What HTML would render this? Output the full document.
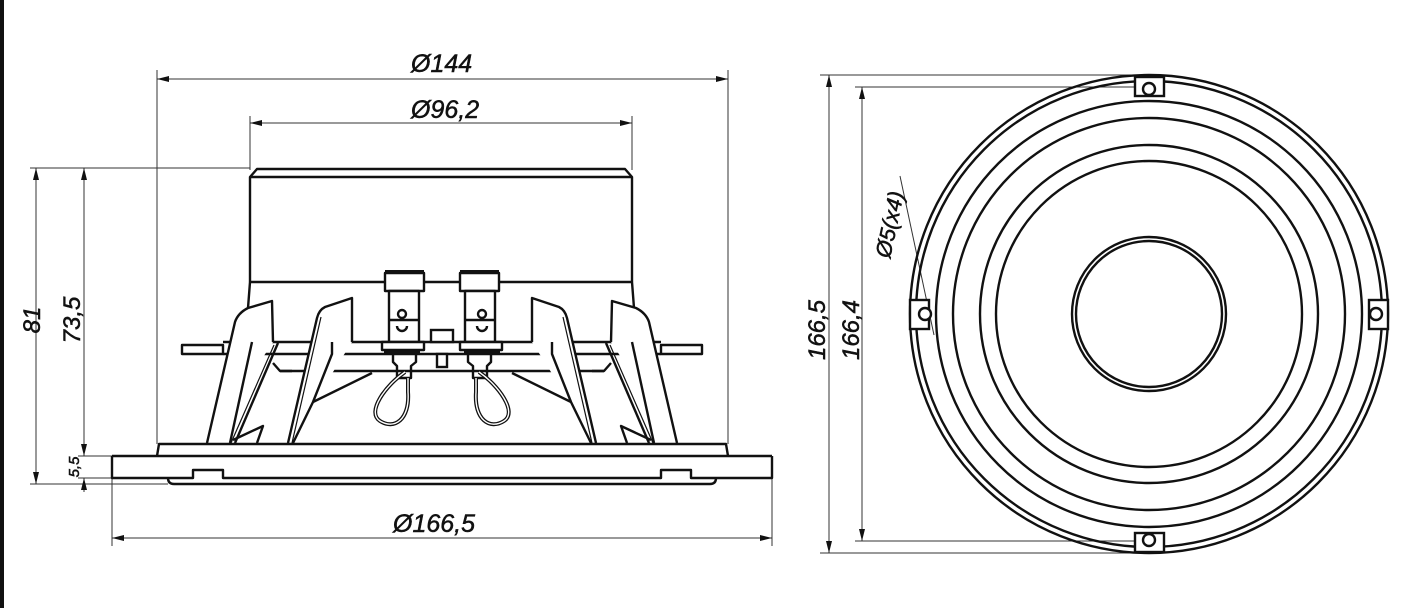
<!DOCTYPE html>
<html><head><meta charset="utf-8"><style>
html,body{margin:0;padding:0;background:#fff;}
svg{display:block;}
text{font-family:"Liberation Sans",sans-serif;font-style:italic;fill:#111;stroke:#111;stroke-width:0.5;}
</style></head><body>
<svg width="1428" height="608" viewBox="0 0 1428 608" xmlns="http://www.w3.org/2000/svg">
<defs>
<marker id="a" viewBox="0 0 12 6" refX="12" refY="3" markerWidth="12" markerHeight="6" orient="auto-start-reverse" markerUnits="userSpaceOnUse">
<path d="M0,0 L12,3 L0,6 Z" fill="#111"/></marker>
</defs>
<rect x="0" y="0" width="4" height="608" fill="#111"/>
<g stroke="#333" stroke-width="1" fill="none">
<line x1="157" y1="70" x2="157" y2="444"/><line x1="728" y1="70" x2="728" y2="444"/>
<line x1="250" y1="116" x2="250" y2="170"/><line x1="632" y1="116" x2="632" y2="170"/>
<line x1="112" y1="478" x2="112" y2="546"/><line x1="772" y1="478" x2="772" y2="546"/>
<line x1="30" y1="168" x2="250" y2="168"/>
<line x1="78" y1="456" x2="112" y2="456"/><line x1="78" y1="478" x2="112" y2="478"/>
<line x1="30" y1="484" x2="168" y2="484"/>
<line x1="820" y1="75" x2="1150" y2="75"/><line x1="820" y1="553" x2="1150" y2="553"/>
<line x1="855" y1="87" x2="1140" y2="87"/><line x1="855" y1="541" x2="1140" y2="541"/>
<line x1="900" y1="176" x2="934" y2="335"/>
</g>
<g stroke="#333" stroke-width="1" fill="none">
<line x1="157" y1="79" x2="728" y2="79" marker-start="url(#a)" marker-end="url(#a)"/>
<line x1="250" y1="123" x2="632" y2="123" marker-start="url(#a)" marker-end="url(#a)"/>
<line x1="112" y1="538" x2="772" y2="538" marker-start="url(#a)" marker-end="url(#a)"/>
<line x1="36" y1="168" x2="36" y2="484" marker-start="url(#a)" marker-end="url(#a)"/>
<line x1="84" y1="168" x2="84" y2="456" marker-start="url(#a)" marker-end="url(#a)"/>
<line x1="84" y1="492" x2="84" y2="478" marker-end="url(#a)"/>
<line x1="829" y1="75" x2="829" y2="553" marker-start="url(#a)" marker-end="url(#a)"/>
<line x1="862" y1="87" x2="862" y2="541" marker-start="url(#a)" marker-end="url(#a)"/>
</g>
<text x="411" y="72" font-size="25">Ø144</text>
<text x="411" y="118" font-size="25">Ø96,2</text>
<text x="393" y="532" font-size="25">Ø166,5</text>
<text transform="translate(40,320) rotate(-90)" font-size="24" text-anchor="middle">81</text>
<text transform="translate(80,320) rotate(-90)" font-size="24" text-anchor="middle">73,5</text>
<text transform="translate(79,467) rotate(-90)" font-size="15" text-anchor="middle">5,5</text>
<text transform="translate(825,330) rotate(-90)" font-size="24" text-anchor="middle">166,5</text>
<text transform="translate(859,330) rotate(-90)" font-size="24" text-anchor="middle">166,4</text>
<text transform="translate(897,226) rotate(-78)" font-size="22" text-anchor="middle">Ø5(x4)</text>

<g stroke="#111" stroke-width="2.4" fill="none" stroke-linejoin="round">
<path d="M250,282 L250,177 L257,169 L625,169 L632,177 L632,282"/>
<line x1="250" y1="177" x2="632" y2="177"/>
<line x1="250" y1="282" x2="632" y2="282"/>
<path d="M250,282 L248,308 M632,282 L634,308"/>
<path d="M157,456 L159,444 L726,444 L728,456"/>
<line x1="112" y1="456" x2="772" y2="456"/>
<path d="M168,478 Q168,484 174,484 L710,484 Q716,484 716,478"/>
<path d="M112,456 L112,478 L193,478 L193,470 L223,470 L223,478 L661,478 L661,470 L691,470 L691,478 L772,478 L772,456"/>
<rect x="182" y="345" width="41" height="9"/>
<rect x="661" y="345" width="41" height="9"/>
<line x1="223" y1="342" x2="661" y2="342"/>
<line x1="223" y1="354" x2="661" y2="354"/>
<line x1="280" y1="371" x2="604" y2="371"/>
</g>
<g id="L" stroke="#111" stroke-width="2.4" fill="none" stroke-linejoin="round">
<path d="M207,443 L235,322 Q238,313 248,308 L272,301 L273,342" fill="#fff"/>
<line x1="252" y1="342" x2="230" y2="443"/>
<line x1="278" y1="343" x2="235" y2="443"/>
<line x1="274" y1="345" x2="231" y2="443" stroke-width="1.2"/>
<path d="M233,440 L263,426 L257,443"/>
<path d="M273,363 L280,371 L292,371"/>
<path d="M288,443 L317,318 Q319,310 325,307 L352,298 L352,342" fill="#fff"/>
<line x1="292" y1="443" x2="321" y2="317" stroke-width="1.2"/>
<path d="M332,342 L332,354 L313,402 L293,443"/>
<line x1="313" y1="402" x2="372" y2="373"/>
<rect x="385" y="273" width="39" height="18" fill="#fff"/>
<line x1="385" y1="272" x2="424" y2="272" stroke-width="4"/>
<rect x="389" y="291" width="30" height="51" fill="#fff"/>
<circle cx="402" cy="314" r="4"/>
<path d="M397,326 A5,5 0 0 0 407,326"/>
<line x1="389" y1="320" x2="419" y2="320"/>
<rect x="382" y="342" width="42" height="8" fill="#fff"/>
<line x1="384" y1="352" x2="420" y2="352"/>
<path d="M393,354 L393,362 L397,366 L397,378 L411,378 L411,366 L416,362 L416,354"/>
<path d="M405,372 C386,385 366,412 380,421 C394,430 410,420 408,392 L408,378" stroke-width="4"/>
<path d="M405,372 C386,385 366,412 380,421 C394,430 410,420 408,392 L408,378" stroke="#fff" stroke-width="1.4"/>
</g>
<use href="#L" transform="translate(884,0) scale(-1,1)"/>
<g stroke="#111" stroke-width="2.4" fill="#fff">
<rect x="431" y="330" width="22" height="12"/>
<rect x="437" y="354" width="10" height="13"/>
</g>

<g stroke="#111" stroke-width="2.4" fill="none">
<circle cx="1149" cy="314" r="239"/>
<circle cx="1149" cy="314" r="233"/>
<circle cx="1149" cy="314" r="213"/>
<circle cx="1149" cy="314" r="196"/>
<circle cx="1149" cy="314" r="169"/>
<circle cx="1149" cy="314" r="153"/>
<circle cx="1149" cy="314" r="77"/>
<circle cx="1149" cy="314" r="73"/>
<g fill="#fff">
<rect x="1135" y="77" width="29" height="19"/><circle cx="1149" cy="89" r="6"/>
<rect x="1135" y="533" width="29" height="19"/><circle cx="1149" cy="540" r="6"/>
<rect x="910" y="300" width="19" height="29"/><circle cx="925" cy="314" r="6"/>
<rect x="1369" y="300" width="19" height="29"/><circle cx="1376" cy="314" r="6"/>
</g>
</g>
</svg>
</body></html>
